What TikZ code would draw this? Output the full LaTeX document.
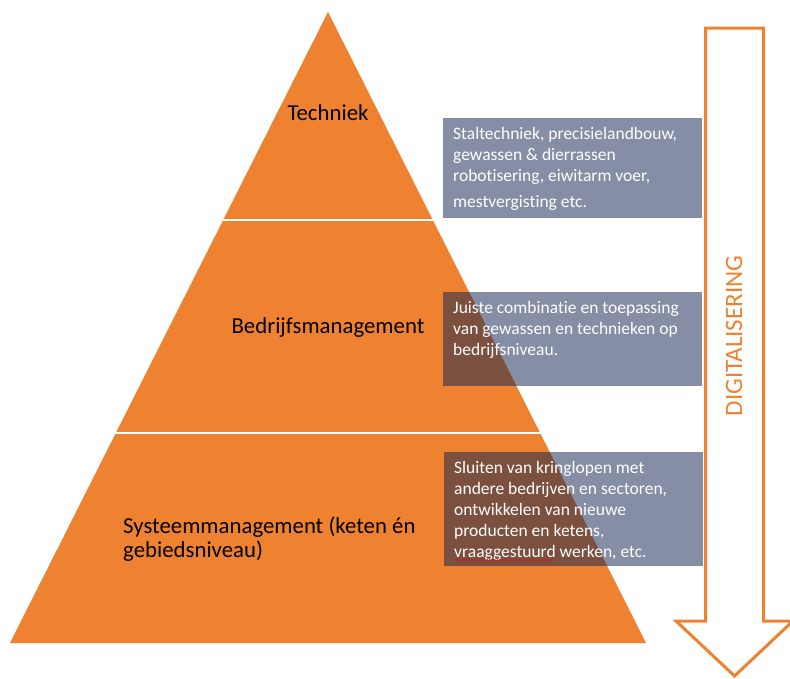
\documentclass[tikz,border=0pt]{standalone}
\usepackage{fontspec}
\setmainfont{Carlito}[Ligatures=NoCommon, RawFeature={-liga;-clig;-calt;-dlig}]
\usetikzlibrary{positioning,decorations.pathmorphing}
\definecolor{pyrorange}{RGB}{238,130,49}
\definecolor{boxslate}{RGB}{16,33,77}

\begin{document}
\begin{tikzpicture}[x=1pt, y=-1pt,
    level/.style={font=\fontsize{22.8}{24.5}\selectfont, text=black, inner sep=0pt, align=left},
    infobox/.style={fill=boxslate, fill opacity=0.51, minimum width=259pt, minimum height=#1, anchor=north west, inner sep=0pt},
    infotext/.style={font=\fontsize{17.5}{21}\selectfont, text=white, align=left, anchor=base west, inner sep=0pt}]

    % Fix the size of the page
    \useasboundingbox (0,0) rectangle (790,678);

    % Define the corners of the pyramid
    \def\apexX{328}
    \def\apexY{12}
    \def\baseY{643}
    \def\halfBase{318}
    \coordinate (top) at (\apexX,\apexY);
    \coordinate (bl) at (\apexX-\halfBase,\baseY);
    \coordinate (br) at (\apexX+\halfBase,\baseY);

    % Draw the pyramid
    \fill[pyrorange] (top) -- (bl) -- (br) -- cycle;

    % White cuts between the three levels
    \begin{scope}
        \clip (top) -- (bl) -- (br) -- cycle;
        \foreach \y in {220,433} {
            \draw[white, line width=2.5pt] (0,\y) -- (790,\y);
        }
    \end{scope}

    % Names of the levels (base = last line)
    \node[level, anchor=base] (techniek) at (\apexX,120) {Techniek};
    \node[level, anchor=base] (bedrijf) at (\apexX,333) {Bedrijfsmanagement};
    \node[level, anchor=base west] (systeem) at (123,557.5) {Systeemmanagement (keten én\\ gebiedsniveau)};

    % The see-through boxes with the examples
    \node[infobox=100pt] (techbox) at (443,118) {};
    \node[infobox=94pt] (bedrbox) at (443,292) {};
    \node[infobox=114pt] (systbox) at (444,452) {};

    % texts sit on the baseline of their last line
    \node[infotext] (techtext) at ([shift={(10pt,-89.5pt)}]techbox.north west)
        {Staltechniek, precisielandbouw,\\ gewassen \& dierrassen\\ robotisering, eiwitarm voer,\\[5pt] mestvergisting etc.};
    \node[infotext] (bedrtext) at ([shift={(10pt,-63.5pt)}]bedrbox.north west)
        {Juiste combinatie en toepassing\\ van gewassen en technieken op\\ bedrijfsniveau.};
    \node[infotext] (systtext) at ([shift={(10pt,-105.5pt)}]systbox.north west)
        {Sluiten van kringlopen met\\ andere bedrijven en sectoren,\\ ontwikkelen van nieuwe\\ producten en ketens,\\ vraaggestuurd werken, etc.};
    % red spelling squiggle under the last line
    \draw[red, thin, decorate, decoration={snake, amplitude=0.6pt, segment length=2.5pt}]
        ([yshift=-2.5pt]systtext.base west) -- ++(100pt,0);

    % The big hollow arrow on the right
    \draw[pyrorange, line width=3pt, line join=miter]
        (705.5,28) -- (763.5,28) -- (763.5,621) -- (793,621) -- (734.5,676)
        -- (676,621) -- (705.5,621) -- cycle;
    \node[text=pyrorange, font=\fontsize{25}{30}\selectfont, rotate=90, inner sep=0pt] (digi) at (734,336) {DIGITALISERING};

\end{tikzpicture}
\end{document}
